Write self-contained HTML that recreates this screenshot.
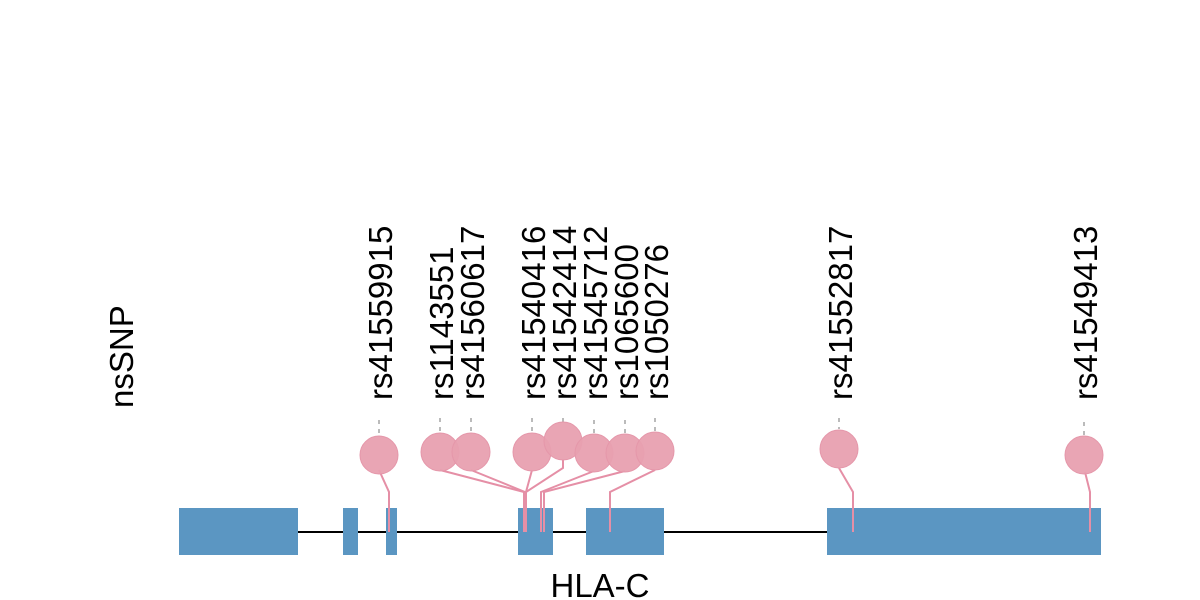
<!DOCTYPE html>
<html><head><meta charset="utf-8"><style>html,body{margin:0;padding:0;background:#fff}svg{display:block}</style></head>
<body>
<svg width="1200" height="600" xmlns="http://www.w3.org/2000/svg" font-family="Liberation Sans, Arial, sans-serif">
<line x1="179" y1="532" x2="1101" y2="532" stroke="#000" stroke-width="2"/>
<g fill="#5b96c2">
<rect x="179" y="508" width="119" height="47"/>
<rect x="343" y="508" width="15" height="47"/>
<rect x="386" y="508" width="11" height="47"/>
<rect x="518" y="508" width="35" height="47"/>
<rect x="586" y="508" width="78" height="47"/>
<rect x="827" y="508" width="274" height="47"/>
</g>
<g fill="none" stroke="#e58fa6" stroke-width="2">
<polyline points="379,470 389,492 389,532"/>
<polyline points="440,470 524,492 524,532"/>
<polyline points="471,470 525,492 525,532"/>
<polyline points="532,470 526,492 526,532"/>
<polyline points="563,460 563,468 526,492 526,532"/>
<polyline points="594,471 541,492 541,532"/>
<polyline points="625,471 544,492 544,532"/>
<polyline points="655,470 610,492 610,532"/>
<polyline points="839,468 853,492 853,532"/>
<polyline points="1085,472 1090,492 1090,532"/>
</g>
<g stroke="#bbb" stroke-width="2" stroke-dasharray="4,5">
<line x1="379" y1="420" x2="379" y2="436"/>
<line x1="440" y1="418" x2="440" y2="433"/>
<line x1="471" y1="418" x2="471" y2="433"/>
<line x1="532" y1="418" x2="532" y2="433"/>
<line x1="563" y1="418" x2="563" y2="422"/>
<line x1="594" y1="420" x2="594" y2="434"/>
<line x1="625" y1="420" x2="625" y2="434"/>
<line x1="655" y1="418" x2="655" y2="432"/>
<line x1="839" y1="418" x2="839" y2="429"/>
<line x1="1084" y1="422" x2="1084" y2="436"/>
</g>
<g fill="#e8a0b0" fill-opacity="0.95" stroke="#e597aa" stroke-width="1">
<circle cx="379" cy="455" r="19"/>
<circle cx="440" cy="452" r="19"/>
<circle cx="471" cy="452" r="19"/>
<circle cx="532" cy="452" r="19"/>
<circle cx="563" cy="441" r="19"/>
<circle cx="594" cy="453" r="19"/>
<circle cx="625" cy="453" r="19"/>
<circle cx="655" cy="451" r="19"/>
<circle cx="839" cy="449" r="19"/>
<circle cx="1084" cy="455" r="19"/>
</g>
<g font-size="33" fill="#000">
<text transform="translate(392,400) rotate(-90)">rs41559915</text>
<text transform="translate(453,400) rotate(-90)">rs1143551</text>
<text transform="translate(484,400) rotate(-90)">rs41560617</text>
<text transform="translate(545,400) rotate(-90)">rs41540416</text>
<text transform="translate(576,400) rotate(-90)">rs41542414</text>
<text transform="translate(607,400) rotate(-90)">rs41545712</text>
<text transform="translate(638,400) rotate(-90)">rs1065600</text>
<text transform="translate(668,400) rotate(-90)">rs1050276</text>
<text transform="translate(852,400) rotate(-90)">rs41552817</text>
<text transform="translate(1097,400) rotate(-90)">rs41549413</text>
<text transform="translate(133,408) rotate(-90)">nsSNP</text>
<text x="600" y="597" text-anchor="middle">HLA-C</text>
</g>
</svg>
</body></html>
